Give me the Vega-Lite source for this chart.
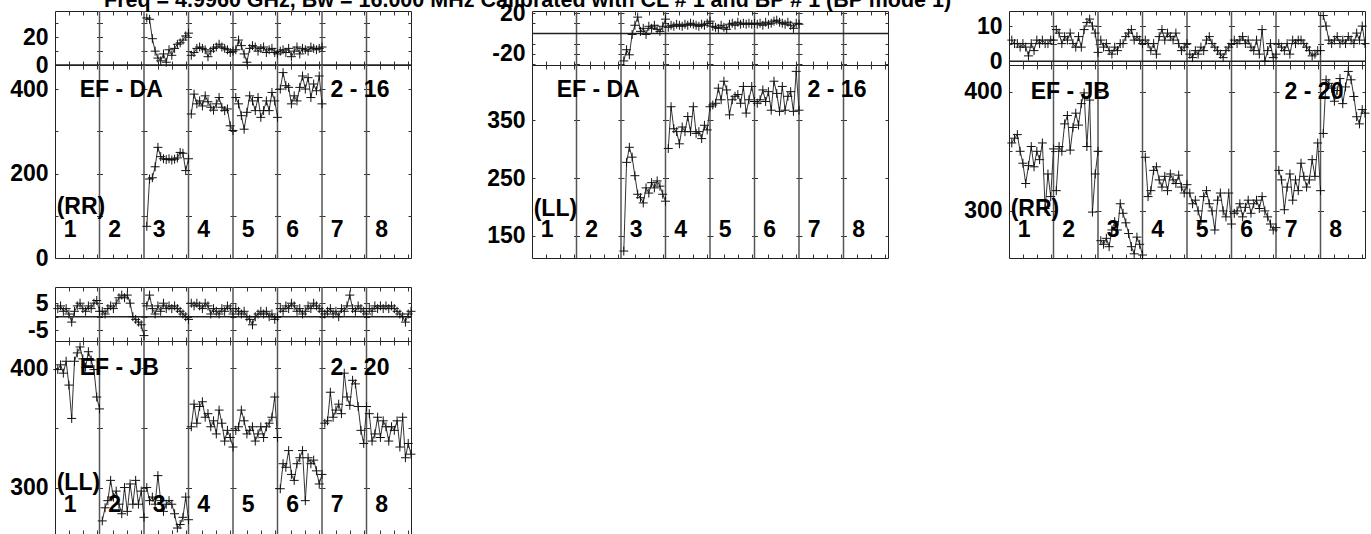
{
  "$schema": "https://vega.github.io/schema/vega-lite/v6.json",
  "background": "white",
  "padding": {"left": 9, "top": -11, "right": 0, "bottom": 0},
  "title": {"text": "Freq = 4.9960 GHz, Bw = 16.000 MHz  Calibrated with CL # 1 and BP # 1 (BP mode 1)", "anchor": "start", "frame": "group", "dx": 49, "offset": -9.5, "font": "Liberation Sans", "fontSize": 21.5, "fontWeight": "bold", "color": "#000"},
  "config": {
    "view": {"stroke": "#222", "strokeWidth": 1},
    "axis": {"labelFont": "Liberation Sans", "labelFontSize": 23, "labelFontWeight": "bold", "labelColor": "#000", "ticks": false, "domain": false, "grid": true, "gridColor": "#333", "gridOpacity": 1, "gridWidth": 1, "labelPadding": 7, "labelFlush": false, "labelOverlap": false},
    "axisY": {"gridDash": [6, 38.5], "gridDashOffset": 3},
    "text": {"font": "Liberation Sans", "fontSize": 23, "fontWeight": "bold", "color": "#000"}
  },
  "datasets": {
    "div": [{"ch":16},{"ch":32},{"ch":48},{"ch":64},{"ch":80},{"ch":96},{"ch":112}],
    "zero": [{"z": 0}],
    "ifs": [{"ifn":1},{"ifn":2},{"ifn":3},{"ifn":4},{"ifn":5},{"ifn":6},{"ifn":7},{"ifn":8}],
    "base": [{"p":"A","t":"EF - DA"},{"p":"B","t":"EF - DA"},{"p":"C","t":"EF - JB"},{"p":"D","t":"EF - JB"}],
    "time": [{"p":"A","t":"2 - 16"},{"p":"B","t":"2 - 16"},{"p":"C","t":"2 - 20"},{"p":"D","t":"2 - 20"}],
    "pol": [{"p":"A","t":"(RR)"},{"p":"B","t":"(LL)"},{"p":"C","t":"(RR)"},{"p":"D","t":"(LL)"}],
    "vis": [
{"p":"A","ifn":3,"ch":33,"a":75,"ph":34},{"p":"A","ifn":3,"ch":34,"a":187,"ph":33},{"p":"A","ifn":3,"ch":35,"a":190,"ph":19},{"p":"A","ifn":3,"ch":36,"a":216,"ph":10},{"p":"A","ifn":3,"ch":37,"a":262,"ph":5},{"p":"A","ifn":3,"ch":38,"a":240,"ph":3},{"p":"A","ifn":3,"ch":39,"a":235,"ph":8},{"p":"A","ifn":3,"ch":40,"a":233,"ph":2},{"p":"A","ifn":3,"ch":41,"a":235,"ph":11},{"p":"A","ifn":3,"ch":42,"a":232,"ph":7},{"p":"A","ifn":3,"ch":43,"a":234,"ph":12},{"p":"A","ifn":3,"ch":44,"a":237,"ph":15},{"p":"A","ifn":3,"ch":45,"a":250,"ph":16},{"p":"A","ifn":3,"ch":46,"a":248,"ph":18},{"p":"A","ifn":3,"ch":47,"a":207,"ph":21},{"p":"A","ifn":3,"ch":48,"a":235,"ph":23},
{"p":"A","ifn":4,"ch":49,"a":341,"ph":7},{"p":"A","ifn":4,"ch":50,"a":388,"ph":9},{"p":"A","ifn":4,"ch":51,"a":365,"ph":12},{"p":"A","ifn":4,"ch":52,"a":372,"ph":13},{"p":"A","ifn":4,"ch":53,"a":360,"ph":12},{"p":"A","ifn":4,"ch":54,"a":384,"ph":11},{"p":"A","ifn":4,"ch":55,"a":370,"ph":6},{"p":"A","ifn":4,"ch":56,"a":357,"ph":10},{"p":"A","ifn":4,"ch":57,"a":350,"ph":12},{"p":"A","ifn":4,"ch":58,"a":365,"ph":13},{"p":"A","ifn":4,"ch":59,"a":380,"ph":15},{"p":"A","ifn":4,"ch":60,"a":357,"ph":13},{"p":"A","ifn":4,"ch":61,"a":349,"ph":12},{"p":"A","ifn":4,"ch":62,"a":353,"ph":11},{"p":"A","ifn":4,"ch":63,"a":313,"ph":9},{"p":"A","ifn":4,"ch":64,"a":302,"ph":10},
{"p":"A","ifn":5,"ch":65,"a":380,"ph":11},{"p":"A","ifn":5,"ch":66,"a":365,"ph":18},{"p":"A","ifn":5,"ch":67,"a":337,"ph":14},{"p":"A","ifn":5,"ch":68,"a":305,"ph":8},{"p":"A","ifn":5,"ch":69,"a":345,"ph":2},{"p":"A","ifn":5,"ch":70,"a":384,"ph":12},{"p":"A","ifn":5,"ch":71,"a":372,"ph":14},{"p":"A","ifn":5,"ch":72,"a":349,"ph":13},{"p":"A","ifn":5,"ch":73,"a":380,"ph":10},{"p":"A","ifn":5,"ch":74,"a":333,"ph":12},{"p":"A","ifn":5,"ch":75,"a":349,"ph":13},{"p":"A","ifn":5,"ch":76,"a":372,"ph":9},{"p":"A","ifn":5,"ch":77,"a":349,"ph":11},{"p":"A","ifn":5,"ch":78,"a":392,"ph":12},{"p":"A","ifn":5,"ch":79,"a":372,"ph":9},{"p":"A","ifn":5,"ch":80,"a":333,"ph":8},
{"p":"A","ifn":6,"ch":81,"a":400,"ph":10},{"p":"A","ifn":6,"ch":82,"a":439,"ph":11},{"p":"A","ifn":6,"ch":83,"a":408,"ph":9},{"p":"A","ifn":6,"ch":84,"a":404,"ph":12},{"p":"A","ifn":6,"ch":85,"a":365,"ph":6},{"p":"A","ifn":6,"ch":86,"a":384,"ph":10},{"p":"A","ifn":6,"ch":87,"a":372,"ph":13},{"p":"A","ifn":6,"ch":88,"a":404,"ph":8},{"p":"A","ifn":6,"ch":89,"a":431,"ph":12},{"p":"A","ifn":6,"ch":90,"a":400,"ph":11},{"p":"A","ifn":6,"ch":91,"a":427,"ph":10},{"p":"A","ifn":6,"ch":92,"a":380,"ph":13},{"p":"A","ifn":6,"ch":93,"a":412,"ph":12},{"p":"A","ifn":6,"ch":94,"a":396,"ph":11},{"p":"A","ifn":6,"ch":95,"a":431,"ph":12},{"p":"A","ifn":6,"ch":96,"a":365,"ph":13},
{"p":"B","ifn":3,"ch":33,"a":124,"ph":-27},{"p":"B","ifn":3,"ch":34,"a":277,"ph":-16},{"p":"B","ifn":3,"ch":35,"a":303,"ph":-21},{"p":"B","ifn":3,"ch":36,"a":286,"ph":-1},{"p":"B","ifn":3,"ch":37,"a":254,"ph":8},{"p":"B","ifn":3,"ch":38,"a":222,"ph":16},{"p":"B","ifn":3,"ch":39,"a":216,"ph":2},{"p":"B","ifn":3,"ch":40,"a":207,"ph":5},{"p":"B","ifn":3,"ch":41,"a":233,"ph":-1},{"p":"B","ifn":3,"ch":42,"a":224,"ph":7},{"p":"B","ifn":3,"ch":43,"a":242,"ph":5},{"p":"B","ifn":3,"ch":44,"a":233,"ph":8},{"p":"B","ifn":3,"ch":45,"a":245,"ph":4},{"p":"B","ifn":3,"ch":46,"a":236,"ph":2},{"p":"B","ifn":3,"ch":47,"a":222,"ph":7},{"p":"B","ifn":3,"ch":48,"a":210,"ph":14},
{"p":"B","ifn":4,"ch":49,"a":301,"ph":6},{"p":"B","ifn":4,"ch":50,"a":373,"ph":8},{"p":"B","ifn":4,"ch":51,"a":335,"ph":7},{"p":"B","ifn":4,"ch":52,"a":330,"ph":9},{"p":"B","ifn":4,"ch":53,"a":309,"ph":8},{"p":"B","ifn":4,"ch":54,"a":338,"ph":7},{"p":"B","ifn":4,"ch":55,"a":330,"ph":9},{"p":"B","ifn":4,"ch":56,"a":356,"ph":8},{"p":"B","ifn":4,"ch":57,"a":330,"ph":10},{"p":"B","ifn":4,"ch":58,"a":373,"ph":9},{"p":"B","ifn":4,"ch":59,"a":327,"ph":8},{"p":"B","ifn":4,"ch":60,"a":330,"ph":7},{"p":"B","ifn":4,"ch":61,"a":318,"ph":9},{"p":"B","ifn":4,"ch":62,"a":341,"ph":8},{"p":"B","ifn":4,"ch":63,"a":333,"ph":10},{"p":"B","ifn":4,"ch":64,"a":373,"ph":12},
{"p":"B","ifn":5,"ch":65,"a":376,"ph":7},{"p":"B","ifn":5,"ch":66,"a":379,"ph":6},{"p":"B","ifn":5,"ch":67,"a":405,"ph":5},{"p":"B","ifn":5,"ch":68,"a":385,"ph":8},{"p":"B","ifn":5,"ch":69,"a":417,"ph":6},{"p":"B","ifn":5,"ch":70,"a":402,"ph":4},{"p":"B","ifn":5,"ch":71,"a":359,"ph":9},{"p":"B","ifn":5,"ch":72,"a":385,"ph":10},{"p":"B","ifn":5,"ch":73,"a":391,"ph":8},{"p":"B","ifn":5,"ch":74,"a":394,"ph":11},{"p":"B","ifn":5,"ch":75,"a":379,"ph":9},{"p":"B","ifn":5,"ch":76,"a":408,"ph":10},{"p":"B","ifn":5,"ch":77,"a":362,"ph":9},{"p":"B","ifn":5,"ch":78,"a":385,"ph":10},{"p":"B","ifn":5,"ch":79,"a":408,"ph":9},{"p":"B","ifn":5,"ch":80,"a":382,"ph":10},
{"p":"B","ifn":6,"ch":81,"a":379,"ph":9},{"p":"B","ifn":6,"ch":82,"a":385,"ph":10},{"p":"B","ifn":6,"ch":83,"a":402,"ph":8},{"p":"B","ifn":6,"ch":84,"a":382,"ph":11},{"p":"B","ifn":6,"ch":85,"a":399,"ph":9},{"p":"B","ifn":6,"ch":86,"a":367,"ph":10},{"p":"B","ifn":6,"ch":87,"a":417,"ph":12},{"p":"B","ifn":6,"ch":88,"a":396,"ph":13},{"p":"B","ifn":6,"ch":89,"a":365,"ph":11},{"p":"B","ifn":6,"ch":90,"a":408,"ph":10},{"p":"B","ifn":6,"ch":91,"a":367,"ph":9},{"p":"B","ifn":6,"ch":92,"a":391,"ph":11},{"p":"B","ifn":6,"ch":93,"a":399,"ph":8},{"p":"B","ifn":6,"ch":94,"a":365,"ph":5},{"p":"B","ifn":6,"ch":95,"a":434,"ph":10},{"p":"B","ifn":6,"ch":96,"a":367,"ph":9},
{"p":"C","ifn":1,"ch":1,"a":357,"ph":6},{"p":"C","ifn":1,"ch":2,"a":361,"ph":5},{"p":"C","ifn":1,"ch":3,"a":364,"ph":5},{"p":"C","ifn":1,"ch":4,"a":350,"ph":4},{"p":"C","ifn":1,"ch":5,"a":340,"ph":5},{"p":"C","ifn":1,"ch":6,"a":323,"ph":4},{"p":"C","ifn":1,"ch":7,"a":338,"ph":1.5},{"p":"C","ifn":1,"ch":8,"a":354,"ph":5},{"p":"C","ifn":1,"ch":9,"a":337,"ph":3},{"p":"C","ifn":1,"ch":10,"a":350,"ph":6},{"p":"C","ifn":1,"ch":11,"a":343,"ph":5},{"p":"C","ifn":1,"ch":12,"a":357,"ph":6},{"p":"C","ifn":1,"ch":13,"a":302,"ph":5},{"p":"C","ifn":1,"ch":14,"a":331,"ph":5},{"p":"C","ifn":1,"ch":15,"a":312,"ph":6},{"p":"C","ifn":1,"ch":16,"a":352,"ph":6},
{"p":"C","ifn":2,"ch":17,"a":317,"ph":9},{"p":"C","ifn":2,"ch":18,"a":354,"ph":8},{"p":"C","ifn":2,"ch":19,"a":350,"ph":5},{"p":"C","ifn":2,"ch":20,"a":373,"ph":7},{"p":"C","ifn":2,"ch":21,"a":380,"ph":6},{"p":"C","ifn":2,"ch":22,"a":351,"ph":8},{"p":"C","ifn":2,"ch":23,"a":370,"ph":5},{"p":"C","ifn":2,"ch":24,"a":382,"ph":4},{"p":"C","ifn":2,"ch":25,"a":372,"ph":7},{"p":"C","ifn":2,"ch":26,"a":390,"ph":4},{"p":"C","ifn":2,"ch":27,"a":399,"ph":9},{"p":"C","ifn":2,"ch":28,"a":354,"ph":11},{"p":"C","ifn":2,"ch":29,"a":393,"ph":12},{"p":"C","ifn":2,"ch":30,"a":299,"ph":10},{"p":"C","ifn":2,"ch":31,"a":331,"ph":8},{"p":"C","ifn":2,"ch":32,"a":350,"ph":2.5},
{"p":"C","ifn":3,"ch":33,"a":275,"ph":6},{"p":"C","ifn":3,"ch":34,"a":272,"ph":4},{"p":"C","ifn":3,"ch":35,"a":277,"ph":5},{"p":"C","ifn":3,"ch":36,"a":270,"ph":3},{"p":"C","ifn":3,"ch":37,"a":284,"ph":2},{"p":"C","ifn":3,"ch":38,"a":291,"ph":4},{"p":"C","ifn":3,"ch":39,"a":284,"ph":3},{"p":"C","ifn":3,"ch":40,"a":306,"ph":5},{"p":"C","ifn":3,"ch":41,"a":298,"ph":5},{"p":"C","ifn":3,"ch":42,"a":290,"ph":7},{"p":"C","ifn":3,"ch":43,"a":281,"ph":8},{"p":"C","ifn":3,"ch":44,"a":270,"ph":9},{"p":"C","ifn":3,"ch":45,"a":264,"ph":6},{"p":"C","ifn":3,"ch":46,"a":278,"ph":7},{"p":"C","ifn":3,"ch":47,"a":272,"ph":6},{"p":"C","ifn":3,"ch":48,"a":263,"ph":5},
{"p":"C","ifn":4,"ch":49,"a":345,"ph":6},{"p":"C","ifn":4,"ch":50,"a":312,"ph":5},{"p":"C","ifn":4,"ch":51,"a":317,"ph":3},{"p":"C","ifn":4,"ch":52,"a":334,"ph":5},{"p":"C","ifn":4,"ch":53,"a":337,"ph":2},{"p":"C","ifn":4,"ch":54,"a":326,"ph":7},{"p":"C","ifn":4,"ch":55,"a":320,"ph":9},{"p":"C","ifn":4,"ch":56,"a":329,"ph":6},{"p":"C","ifn":4,"ch":57,"a":317,"ph":8},{"p":"C","ifn":4,"ch":58,"a":331,"ph":7},{"p":"C","ifn":4,"ch":59,"a":326,"ph":6},{"p":"C","ifn":4,"ch":60,"a":323,"ph":8},{"p":"C","ifn":4,"ch":61,"a":330,"ph":5},{"p":"C","ifn":4,"ch":62,"a":320,"ph":3},{"p":"C","ifn":4,"ch":63,"a":315,"ph":4},{"p":"C","ifn":4,"ch":64,"a":322,"ph":5},
{"p":"C","ifn":5,"ch":65,"a":315,"ph":2},{"p":"C","ifn":5,"ch":66,"a":306,"ph":1},{"p":"C","ifn":5,"ch":67,"a":309,"ph":3},{"p":"C","ifn":5,"ch":68,"a":300,"ph":2},{"p":"C","ifn":5,"ch":69,"a":292,"ph":4},{"p":"C","ifn":5,"ch":70,"a":312,"ph":3},{"p":"C","ifn":5,"ch":71,"a":317,"ph":6},{"p":"C","ifn":5,"ch":72,"a":306,"ph":7},{"p":"C","ifn":5,"ch":73,"a":300,"ph":5},{"p":"C","ifn":5,"ch":74,"a":284,"ph":4},{"p":"C","ifn":5,"ch":75,"a":309,"ph":3},{"p":"C","ifn":5,"ch":76,"a":315,"ph":2},{"p":"C","ifn":5,"ch":77,"a":300,"ph":1},{"p":"C","ifn":5,"ch":78,"a":295,"ph":3},{"p":"C","ifn":5,"ch":79,"a":315,"ph":4},{"p":"C","ifn":5,"ch":80,"a":289,"ph":5},
{"p":"C","ifn":6,"ch":81,"a":298,"ph":6},{"p":"C","ifn":6,"ch":82,"a":300,"ph":5},{"p":"C","ifn":6,"ch":83,"a":306,"ph":6},{"p":"C","ifn":6,"ch":84,"a":295,"ph":7},{"p":"C","ifn":6,"ch":85,"a":303,"ph":5},{"p":"C","ifn":6,"ch":86,"a":309,"ph":6},{"p":"C","ifn":6,"ch":87,"a":298,"ph":4},{"p":"C","ifn":6,"ch":88,"a":306,"ph":3},{"p":"C","ifn":6,"ch":89,"a":309,"ph":6},{"p":"C","ifn":6,"ch":90,"a":302,"ph":2},{"p":"C","ifn":6,"ch":91,"a":312,"ph":9},{"p":"C","ifn":6,"ch":92,"a":300,"ph":0},{"p":"C","ifn":6,"ch":93,"a":295,"ph":3},{"p":"C","ifn":6,"ch":94,"a":289,"ph":5},{"p":"C","ifn":6,"ch":95,"a":284,"ph":1},{"p":"C","ifn":6,"ch":96,"a":286,"ph":2},
{"p":"C","ifn":7,"ch":97,"a":334,"ph":5},{"p":"C","ifn":7,"ch":98,"a":326,"ph":4},{"p":"C","ifn":7,"ch":99,"a":301,"ph":3},{"p":"C","ifn":7,"ch":100,"a":320,"ph":5},{"p":"C","ifn":7,"ch":101,"a":331,"ph":2},{"p":"C","ifn":7,"ch":102,"a":309,"ph":6},{"p":"C","ifn":7,"ch":103,"a":326,"ph":5},{"p":"C","ifn":7,"ch":104,"a":317,"ph":6},{"p":"C","ifn":7,"ch":105,"a":340,"ph":6},{"p":"C","ifn":7,"ch":106,"a":329,"ph":5},{"p":"C","ifn":7,"ch":107,"a":320,"ph":4},{"p":"C","ifn":7,"ch":108,"a":326,"ph":3},{"p":"C","ifn":7,"ch":109,"a":343,"ph":1.5},{"p":"C","ifn":7,"ch":110,"a":329,"ph":2},{"p":"C","ifn":7,"ch":111,"a":357,"ph":3},{"p":"C","ifn":7,"ch":112,"a":317,"ph":3},
{"p":"C","ifn":8,"ch":113,"a":365,"ph":13},{"p":"C","ifn":8,"ch":114,"a":410,"ph":10},{"p":"C","ifn":8,"ch":115,"a":407,"ph":6},{"p":"C","ifn":8,"ch":116,"a":403,"ph":5},{"p":"C","ifn":8,"ch":117,"a":392,"ph":6},{"p":"C","ifn":8,"ch":118,"a":401,"ph":7},{"p":"C","ifn":8,"ch":119,"a":411,"ph":5},{"p":"C","ifn":8,"ch":120,"a":390,"ph":6},{"p":"C","ifn":8,"ch":121,"a":404,"ph":5},{"p":"C","ifn":8,"ch":122,"a":417,"ph":7},{"p":"C","ifn":8,"ch":123,"a":410,"ph":6},{"p":"C","ifn":8,"ch":124,"a":396,"ph":5},{"p":"C","ifn":8,"ch":125,"a":379,"ph":8},{"p":"C","ifn":8,"ch":126,"a":373,"ph":6},{"p":"C","ifn":8,"ch":127,"a":385,"ph":10},{"p":"C","ifn":8,"ch":128,"a":382,"ph":5},
{"p":"D","ifn":1,"ch":1,"a":399,"ph":3},{"p":"D","ifn":1,"ch":2,"a":403,"ph":4},{"p":"D","ifn":1,"ch":3,"a":396,"ph":2},{"p":"D","ifn":1,"ch":4,"a":406,"ph":3},{"p":"D","ifn":1,"ch":5,"a":386,"ph":1},{"p":"D","ifn":1,"ch":6,"a":358,"ph":-2},{"p":"D","ifn":1,"ch":7,"a":406,"ph":2},{"p":"D","ifn":1,"ch":8,"a":413,"ph":4},{"p":"D","ifn":1,"ch":9,"a":418,"ph":5},{"p":"D","ifn":1,"ch":10,"a":408,"ph":3},{"p":"D","ifn":1,"ch":11,"a":401,"ph":2},{"p":"D","ifn":1,"ch":12,"a":414,"ph":4},{"p":"D","ifn":1,"ch":13,"a":407,"ph":3},{"p":"D","ifn":1,"ch":14,"a":399,"ph":5},{"p":"D","ifn":1,"ch":15,"a":376,"ph":6},{"p":"D","ifn":1,"ch":16,"a":366,"ph":2},
{"p":"D","ifn":2,"ch":17,"a":272,"ph":2},{"p":"D","ifn":2,"ch":18,"a":283,"ph":1},{"p":"D","ifn":2,"ch":19,"a":289,"ph":3},{"p":"D","ifn":2,"ch":20,"a":306,"ph":4},{"p":"D","ifn":2,"ch":21,"a":292,"ph":3},{"p":"D","ifn":2,"ch":22,"a":297,"ph":5},{"p":"D","ifn":2,"ch":23,"a":286,"ph":7},{"p":"D","ifn":2,"ch":24,"a":278,"ph":8},{"p":"D","ifn":2,"ch":25,"a":300,"ph":7},{"p":"D","ifn":2,"ch":26,"a":280,"ph":8},{"p":"D","ifn":2,"ch":27,"a":303,"ph":5},{"p":"D","ifn":2,"ch":28,"a":286,"ph":0},{"p":"D","ifn":2,"ch":29,"a":306,"ph":-1},{"p":"D","ifn":2,"ch":30,"a":286,"ph":-2},{"p":"D","ifn":2,"ch":31,"a":297,"ph":-3},{"p":"D","ifn":2,"ch":32,"a":275,"ph":-7},
{"p":"D","ifn":3,"ch":33,"a":300,"ph":4},{"p":"D","ifn":3,"ch":34,"a":289,"ph":8},{"p":"D","ifn":3,"ch":35,"a":292,"ph":3},{"p":"D","ifn":3,"ch":36,"a":286,"ph":1},{"p":"D","ifn":3,"ch":37,"a":310,"ph":4},{"p":"D","ifn":3,"ch":38,"a":289,"ph":2},{"p":"D","ifn":3,"ch":39,"a":280,"ph":5},{"p":"D","ifn":3,"ch":40,"a":286,"ph":3},{"p":"D","ifn":3,"ch":41,"a":289,"ph":4},{"p":"D","ifn":3,"ch":42,"a":286,"ph":3},{"p":"D","ifn":3,"ch":43,"a":278,"ph":4},{"p":"D","ifn":3,"ch":44,"a":266,"ph":3},{"p":"D","ifn":3,"ch":45,"a":269,"ph":2},{"p":"D","ifn":3,"ch":46,"a":275,"ph":1},{"p":"D","ifn":3,"ch":47,"a":292,"ph":0},{"p":"D","ifn":3,"ch":48,"a":273,"ph":-1},
{"p":"D","ifn":4,"ch":49,"a":351,"ph":5},{"p":"D","ifn":4,"ch":50,"a":370,"ph":4},{"p":"D","ifn":4,"ch":51,"a":354,"ph":5},{"p":"D","ifn":4,"ch":52,"a":368,"ph":4},{"p":"D","ifn":4,"ch":53,"a":372,"ph":3},{"p":"D","ifn":4,"ch":54,"a":359,"ph":5},{"p":"D","ifn":4,"ch":55,"a":362,"ph":4},{"p":"D","ifn":4,"ch":56,"a":351,"ph":1},{"p":"D","ifn":4,"ch":57,"a":356,"ph":3},{"p":"D","ifn":4,"ch":58,"a":345,"ph":2},{"p":"D","ifn":4,"ch":59,"a":365,"ph":1},{"p":"D","ifn":4,"ch":60,"a":354,"ph":3},{"p":"D","ifn":4,"ch":61,"a":339,"ph":2},{"p":"D","ifn":4,"ch":62,"a":348,"ph":4},{"p":"D","ifn":4,"ch":63,"a":342,"ph":3},{"p":"D","ifn":4,"ch":64,"a":334,"ph":1},
{"p":"D","ifn":5,"ch":65,"a":348,"ph":3},{"p":"D","ifn":5,"ch":66,"a":351,"ph":2},{"p":"D","ifn":5,"ch":67,"a":365,"ph":1},{"p":"D","ifn":5,"ch":68,"a":356,"ph":2},{"p":"D","ifn":5,"ch":69,"a":345,"ph":0},{"p":"D","ifn":5,"ch":70,"a":348,"ph":-1},{"p":"D","ifn":5,"ch":71,"a":351,"ph":-3},{"p":"D","ifn":5,"ch":72,"a":339,"ph":0},{"p":"D","ifn":5,"ch":73,"a":345,"ph":1},{"p":"D","ifn":5,"ch":74,"a":351,"ph":2},{"p":"D","ifn":5,"ch":75,"a":342,"ph":1},{"p":"D","ifn":5,"ch":76,"a":351,"ph":2},{"p":"D","ifn":5,"ch":77,"a":354,"ph":0},{"p":"D","ifn":5,"ch":78,"a":359,"ph":1},{"p":"D","ifn":5,"ch":79,"a":376,"ph":-1},{"p":"D","ifn":5,"ch":80,"a":342,"ph":0},
{"p":"D","ifn":6,"ch":81,"a":299,"ph":3},{"p":"D","ifn":6,"ch":82,"a":320,"ph":2},{"p":"D","ifn":6,"ch":83,"a":317,"ph":4},{"p":"D","ifn":6,"ch":84,"a":331,"ph":3},{"p":"D","ifn":6,"ch":85,"a":311,"ph":5},{"p":"D","ifn":6,"ch":86,"a":306,"ph":4},{"p":"D","ifn":6,"ch":87,"a":320,"ph":2},{"p":"D","ifn":6,"ch":88,"a":325,"ph":3},{"p":"D","ifn":6,"ch":89,"a":331,"ph":1},{"p":"D","ifn":6,"ch":90,"a":289,"ph":2},{"p":"D","ifn":6,"ch":91,"a":325,"ph":4},{"p":"D","ifn":6,"ch":92,"a":320,"ph":3},{"p":"D","ifn":6,"ch":93,"a":323,"ph":5},{"p":"D","ifn":6,"ch":94,"a":314,"ph":4},{"p":"D","ifn":6,"ch":95,"a":303,"ph":3},{"p":"D","ifn":6,"ch":96,"a":311,"ph":2},
{"p":"D","ifn":7,"ch":97,"a":354,"ph":1},{"p":"D","ifn":7,"ch":98,"a":356,"ph":2},{"p":"D","ifn":7,"ch":99,"a":380,"ph":3},{"p":"D","ifn":7,"ch":100,"a":359,"ph":1},{"p":"D","ifn":7,"ch":101,"a":365,"ph":2},{"p":"D","ifn":7,"ch":102,"a":370,"ph":0},{"p":"D","ifn":7,"ch":103,"a":362,"ph":3},{"p":"D","ifn":7,"ch":104,"a":396,"ph":2},{"p":"D","ifn":7,"ch":105,"a":376,"ph":4},{"p":"D","ifn":7,"ch":106,"a":369,"ph":8},{"p":"D","ifn":7,"ch":107,"a":390,"ph":3},{"p":"D","ifn":7,"ch":108,"a":387,"ph":2},{"p":"D","ifn":7,"ch":109,"a":368,"ph":4},{"p":"D","ifn":7,"ch":110,"a":348,"ph":3},{"p":"D","ifn":7,"ch":111,"a":337,"ph":2},{"p":"D","ifn":7,"ch":112,"a":368,"ph":1},
{"p":"D","ifn":8,"ch":113,"a":362,"ph":3},{"p":"D","ifn":8,"ch":114,"a":339,"ph":2},{"p":"D","ifn":8,"ch":115,"a":345,"ph":4},{"p":"D","ifn":8,"ch":116,"a":359,"ph":3},{"p":"D","ifn":8,"ch":117,"a":342,"ph":4},{"p":"D","ifn":8,"ch":118,"a":356,"ph":3},{"p":"D","ifn":8,"ch":119,"a":351,"ph":4},{"p":"D","ifn":8,"ch":120,"a":339,"ph":3},{"p":"D","ifn":8,"ch":121,"a":351,"ph":4},{"p":"D","ifn":8,"ch":122,"a":348,"ph":3},{"p":"D","ifn":8,"ch":123,"a":356,"ph":2},{"p":"D","ifn":8,"ch":124,"a":334,"ph":1},{"p":"D","ifn":8,"ch":125,"a":359,"ph":0},{"p":"D","ifn":8,"ch":126,"a":325,"ph":-2},{"p":"D","ifn":8,"ch":127,"a":337,"ph":1},{"p":"D","ifn":8,"ch":128,"a":328,"ph":2}
    ]
  },
  "spacing": 14,
  "vconcat": [
    {"hconcat": [
      {"vconcat": [
        {"width": 356, "height": 54, "data": {"name": "vis"}, "transform": [{"filter": "datum.p === 'A'"}],
         "encoding": {
           "x": {"field": "ch", "type": "quantitative", "scale": {"domain": [0, 128], "nice": false, "zero": false}, "axis": {"values": [5,10,15,21,26,31,37,42,47,53,58,63,69,74,79,85,90,95,101,106,111,117,122,127], "labels": false, "gridDash": [4, 46], "title": null}},
           "y": {"field": "ph", "type": "quantitative", "scale": {"domain": [0, 39], "nice": false, "zero": false}, "axis": {"values": [0, 10, 20, 30], "labelExpr": "datum.value % 20 === 0 ? '' + datum.value : ''", "title": null}}
         },
         "layer": [
          {"data": {"name": "div"}, "mark": {"type": "rule", "color": "#555", "strokeWidth": 1.5}, "encoding": {"y": {"value": 0}, "y2": {"value": "height"}}},
          {"data": {"name": "zero"}, "mark": {"type": "rule", "color": "#222", "strokeWidth": 1.5}, "encoding": {"x": {"value": 0}, "x2": {"value": "width"}, "y": {"field": "z", "type": "quantitative"}}},
          {"mark": {"type": "line", "color": "#333", "strokeWidth": 1}, "encoding": {"detail": {"field": "ifn"}}},
          {"mark": {"type": "point", "shape": "M-1,0L1,0M0,-1L0,1", "size": 80, "filled": false, "color": "#111", "strokeWidth": 1, "opacity": 1}}
        ]},
        {"width": 356, "height": 193, "resolve": {"scale": {"x": "independent"}}, "layer": [
          {"data": {"name": "vis"}, "transform": [{"filter": "datum.p === 'A'"}],
           "encoding": {
             "x": {"field": "ch", "type": "quantitative", "scale": {"domain": [0, 128], "nice": false, "zero": false}, "axis": {"values": [5,10,15,21,26,31,37,42,47,53,58,63,69,74,79,85,90,95,101,106,111,117,122,127], "labels": false, "gridDash": [4, 185], "title": null}},
             "y": {"field": "a", "type": "quantitative", "scale": {"domain": [0, 457], "nice": false, "zero": false}, "axis": {"values": [0, 100, 200, 300, 400], "labelExpr": "datum.value % 200 === 0 ? datum.label : ''", "title": null}}
           },
           "layer": [
            {"data": {"name": "div"}, "mark": {"type": "rule", "color": "#555", "strokeWidth": 1.5}, "encoding": {"y": {"value": 0}, "y2": {"value": "height"}}},
            {"mark": {"type": "line", "color": "#333", "strokeWidth": 1}, "encoding": {"detail": {"field": "ifn"}}},
            {"mark": {"type": "point", "shape": "M-1,0L1,0M0,-1L0,1", "size": 80, "filled": false, "color": "#111", "strokeWidth": 1, "opacity": 1}}
          ]},
          {"data": {"name": "ifs"}, "mark": {"type": "text", "baseline": "middle", "dx": -7}, "encoding": {"x": {"field": "ifn", "type": "ordinal", "scale": {"type": "band", "paddingInner": 0, "paddingOuter": 0}, "axis": {"labels": false, "grid": false, "title": null}}, "y": {"datum": 66, "type": "quantitative"}, "text": {"field": "ifn"}}},
          {"data": {"name": "base"}, "transform": [{"filter": "datum.p === 'A'"}], "mark": {"type": "text", "align": "left", "baseline": "middle"}, "encoding": {"x": {"datum": 8.9, "type": "quantitative", "scale": {"domain": [0, 128], "nice": false, "zero": false}, "axis": {"labels": false, "grid": false, "title": null}}, "y": {"datum": 398, "type": "quantitative"}, "text": {"field": "t"}}},
          {"data": {"name": "time"}, "transform": [{"filter": "datum.p === 'A'"}], "mark": {"type": "text", "align": "left", "baseline": "middle"}, "encoding": {"x": {"datum": 99.1, "type": "quantitative", "scale": {"domain": [0, 128], "nice": false, "zero": false}, "axis": {"labels": false, "grid": false, "title": null}}, "y": {"datum": 398, "type": "quantitative"}, "text": {"field": "t"}}},
          {"data": {"name": "pol"}, "transform": [{"filter": "datum.p === 'A'"}], "mark": {"type": "text", "align": "left", "baseline": "middle"}, "encoding": {"x": {"datum": 0.6, "type": "quantitative", "scale": {"domain": [0, 128], "nice": false, "zero": false}, "axis": {"labels": false, "grid": false, "title": null}}, "y": {"datum": 121, "type": "quantitative"}, "text": {"field": "t"}}}
        ]}
      ], "spacing": 0, "bounds": "flush"},
      {"vconcat": [
        {"width": 356, "height": 54, "data": {"name": "vis"}, "transform": [{"filter": "datum.p === 'B'"}],
         "encoding": {
           "x": {"field": "ch", "type": "quantitative", "scale": {"domain": [0, 128], "nice": false, "zero": false}, "axis": {"values": [5,10,15,21,26,31,37,42,47,53,58,63,69,74,79,85,90,95,101,106,111,117,122,127], "labels": false, "gridDash": [4, 46], "title": null}},
           "y": {"field": "ph", "type": "quantitative", "scale": {"domain": [-31, 22], "nice": false, "zero": false}, "axis": {"values": [-30, -20, -10, 0, 10, 20], "labelExpr": "abs(datum.value) === 20 ? '' + datum.value : ''", "title": null}}
         },
         "layer": [
          {"data": {"name": "div"}, "mark": {"type": "rule", "color": "#555", "strokeWidth": 1.5}, "encoding": {"y": {"value": 0}, "y2": {"value": "height"}}},
          {"data": {"name": "zero"}, "mark": {"type": "rule", "color": "#222", "strokeWidth": 1.5}, "encoding": {"x": {"value": 0}, "x2": {"value": "width"}, "y": {"field": "z", "type": "quantitative"}}},
          {"mark": {"type": "line", "color": "#333", "strokeWidth": 1}, "encoding": {"detail": {"field": "ifn"}}},
          {"mark": {"type": "point", "shape": "M-1,0L1,0M0,-1L0,1", "size": 80, "filled": false, "color": "#111", "strokeWidth": 1, "opacity": 1}}
        ]},
        {"width": 356, "height": 193, "resolve": {"scale": {"x": "independent"}}, "layer": [
          {"data": {"name": "vis"}, "transform": [{"filter": "datum.p === 'B'"}],
           "encoding": {
             "x": {"field": "ch", "type": "quantitative", "scale": {"domain": [0, 128], "nice": false, "zero": false}, "axis": {"values": [5,10,15,21,26,31,37,42,47,53,58,63,69,74,79,85,90,95,101,106,111,117,122,127], "labels": false, "gridDash": [4, 185], "title": null}},
             "y": {"field": "a", "type": "quantitative", "scale": {"domain": [112, 445], "nice": false, "zero": false}, "axis": {"values": [150, 200, 250, 300, 350, 400], "labelExpr": "(datum.value - 150) % 100 === 0 ? datum.label : ''", "title": null}}
           },
           "layer": [
            {"data": {"name": "div"}, "mark": {"type": "rule", "color": "#555", "strokeWidth": 1.5}, "encoding": {"y": {"value": 0}, "y2": {"value": "height"}}},
            {"mark": {"type": "line", "color": "#333", "strokeWidth": 1}, "encoding": {"detail": {"field": "ifn"}}},
            {"mark": {"type": "point", "shape": "M-1,0L1,0M0,-1L0,1", "size": 80, "filled": false, "color": "#111", "strokeWidth": 1, "opacity": 1}}
          ]},
          {"data": {"name": "ifs"}, "mark": {"type": "text", "baseline": "middle", "dx": -7}, "encoding": {"x": {"field": "ifn", "type": "ordinal", "scale": {"type": "band", "paddingInner": 0, "paddingOuter": 0}, "axis": {"labels": false, "grid": false, "title": null}}, "y": {"datum": 160, "type": "quantitative"}, "text": {"field": "ifn"}}},
          {"data": {"name": "base"}, "transform": [{"filter": "datum.p === 'B'"}], "mark": {"type": "text", "align": "left", "baseline": "middle"}, "encoding": {"x": {"datum": 8.9, "type": "quantitative", "scale": {"domain": [0, 128], "nice": false, "zero": false}, "axis": {"labels": false, "grid": false, "title": null}}, "y": {"datum": 402, "type": "quantitative"}, "text": {"field": "t"}}},
          {"data": {"name": "time"}, "transform": [{"filter": "datum.p === 'B'"}], "mark": {"type": "text", "align": "left", "baseline": "middle"}, "encoding": {"x": {"datum": 99.1, "type": "quantitative", "scale": {"domain": [0, 128], "nice": false, "zero": false}, "axis": {"labels": false, "grid": false, "title": null}}, "y": {"datum": 402, "type": "quantitative"}, "text": {"field": "t"}}},
          {"data": {"name": "pol"}, "transform": [{"filter": "datum.p === 'B'"}], "mark": {"type": "text", "align": "left", "baseline": "middle"}, "encoding": {"x": {"datum": 0.6, "type": "quantitative", "scale": {"domain": [0, 128], "nice": false, "zero": false}, "axis": {"labels": false, "grid": false, "title": null}}, "y": {"datum": 197, "type": "quantitative"}, "text": {"field": "t"}}}
        ]}
      ], "spacing": 0, "bounds": "flush"},
      {"vconcat": [
        {"width": 356, "height": 54, "data": {"name": "vis"}, "transform": [{"filter": "datum.p === 'C'"}],
         "encoding": {
           "x": {"field": "ch", "type": "quantitative", "scale": {"domain": [0, 128], "nice": false, "zero": false}, "axis": {"values": [5,10,15,21,26,31,37,42,47,53,58,63,69,74,79,85,90,95,101,106,111,117,122,127], "labels": false, "gridDash": [4, 46], "title": null}},
           "y": {"field": "ph", "type": "quantitative", "scale": {"domain": [-1.1, 14.3], "nice": false, "zero": false}, "axis": {"values": [0, 5, 10], "labelExpr": "datum.value % 10 === 0 ? '' + datum.value : ''", "title": null}}
         },
         "layer": [
          {"data": {"name": "div"}, "mark": {"type": "rule", "color": "#555", "strokeWidth": 1.5}, "encoding": {"y": {"value": 0}, "y2": {"value": "height"}}},
          {"data": {"name": "zero"}, "mark": {"type": "rule", "color": "#222", "strokeWidth": 1.5}, "encoding": {"x": {"value": 0}, "x2": {"value": "width"}, "y": {"field": "z", "type": "quantitative"}}},
          {"mark": {"type": "line", "color": "#333", "strokeWidth": 1}, "encoding": {"detail": {"field": "ifn"}}},
          {"mark": {"type": "point", "shape": "M-1,0L1,0M0,-1L0,1", "size": 80, "filled": false, "color": "#111", "strokeWidth": 1, "opacity": 1}}
        ]},
        {"width": 356, "height": 193, "resolve": {"scale": {"x": "independent"}}, "layer": [
          {"data": {"name": "vis"}, "transform": [{"filter": "datum.p === 'C'"}],
           "encoding": {
             "x": {"field": "ch", "type": "quantitative", "scale": {"domain": [0, 128], "nice": false, "zero": false}, "axis": {"values": [5,10,15,21,26,31,37,42,47,53,58,63,69,74,79,85,90,95,101,106,111,117,122,127], "labels": false, "gridDash": [4, 185], "title": null}},
             "y": {"field": "a", "type": "quantitative", "scale": {"domain": [260.5, 422.4], "nice": false, "zero": false}, "axis": {"values": [300, 350, 400], "labelExpr": "datum.value % 100 === 0 ? datum.label : ''", "title": null}}
           },
           "layer": [
            {"data": {"name": "div"}, "mark": {"type": "rule", "color": "#555", "strokeWidth": 1.5}, "encoding": {"y": {"value": 0}, "y2": {"value": "height"}}},
            {"mark": {"type": "line", "color": "#333", "strokeWidth": 1}, "encoding": {"detail": {"field": "ifn"}}},
            {"mark": {"type": "point", "shape": "M-1,0L1,0M0,-1L0,1", "size": 80, "filled": false, "color": "#111", "strokeWidth": 1, "opacity": 1}}
          ]},
          {"data": {"name": "ifs"}, "mark": {"type": "text", "baseline": "middle", "dx": -7}, "encoding": {"x": {"field": "ifn", "type": "ordinal", "scale": {"type": "band", "paddingInner": 0, "paddingOuter": 0}, "axis": {"labels": false, "grid": false, "title": null}}, "y": {"datum": 284, "type": "quantitative"}, "text": {"field": "ifn"}}},
          {"data": {"name": "base"}, "transform": [{"filter": "datum.p === 'C'"}], "mark": {"type": "text", "align": "left", "baseline": "middle"}, "encoding": {"x": {"datum": 7.8, "type": "quantitative", "scale": {"domain": [0, 128], "nice": false, "zero": false}, "axis": {"labels": false, "grid": false, "title": null}}, "y": {"datum": 400, "type": "quantitative"}, "text": {"field": "t"}}},
          {"data": {"name": "time"}, "transform": [{"filter": "datum.p === 'C'"}], "mark": {"type": "text", "align": "left", "baseline": "middle"}, "encoding": {"x": {"datum": 99.1, "type": "quantitative", "scale": {"domain": [0, 128], "nice": false, "zero": false}, "axis": {"labels": false, "grid": false, "title": null}}, "y": {"datum": 400, "type": "quantitative"}, "text": {"field": "t"}}},
          {"data": {"name": "pol"}, "transform": [{"filter": "datum.p === 'C'"}], "mark": {"type": "text", "align": "left", "baseline": "middle"}, "encoding": {"x": {"datum": 0.6, "type": "quantitative", "scale": {"domain": [0, 128], "nice": false, "zero": false}, "axis": {"labels": false, "grid": false, "title": null}}, "y": {"datum": 302, "type": "quantitative"}, "text": {"field": "t"}}}
        ]}
      ], "spacing": 0, "bounds": "flush"}
    ], "spacing": 73},
    {"hconcat": [
      {"vconcat": [
        {"width": 356, "height": 54, "data": {"name": "vis"}, "transform": [{"filter": "datum.p === 'D'"}],
         "encoding": {
           "x": {"field": "ch", "type": "quantitative", "scale": {"domain": [0, 128], "nice": false, "zero": false}, "axis": {"values": [5,10,15,21,26,31,37,42,47,53,58,63,69,74,79,85,90,95,101,106,111,117,122,127], "labels": false, "gridDash": [4, 46], "title": null}},
           "y": {"field": "ph", "type": "quantitative", "scale": {"domain": [-9, 11], "nice": false, "zero": false}, "axis": {"values": [-5, 0, 5], "labelExpr": "abs(datum.value) === 5 ? '' + datum.value : ''", "title": null}}
         },
         "layer": [
          {"data": {"name": "div"}, "mark": {"type": "rule", "color": "#555", "strokeWidth": 1.5}, "encoding": {"y": {"value": 0}, "y2": {"value": "height"}}},
          {"data": {"name": "zero"}, "mark": {"type": "rule", "color": "#222", "strokeWidth": 1.5}, "encoding": {"x": {"value": 0}, "x2": {"value": "width"}, "y": {"field": "z", "type": "quantitative"}}},
          {"mark": {"type": "line", "color": "#333", "strokeWidth": 1}, "encoding": {"detail": {"field": "ifn"}}},
          {"mark": {"type": "point", "shape": "M-1,0L1,0M0,-1L0,1", "size": 80, "filled": false, "color": "#111", "strokeWidth": 1, "opacity": 1}}
        ]},
        {"width": 356, "height": 193, "resolve": {"scale": {"x": "independent"}}, "layer": [
          {"data": {"name": "vis"}, "transform": [{"filter": "datum.p === 'D'"}],
           "encoding": {
             "x": {"field": "ch", "type": "quantitative", "scale": {"domain": [0, 128], "nice": false, "zero": false}, "axis": {"values": [5,10,15,21,26,31,37,42,47,53,58,63,69,74,79,85,90,95,101,106,111,117,122,127], "labels": false, "gridDash": [4, 185], "title": null}},
             "y": {"field": "a", "type": "quantitative", "scale": {"domain": [261, 423], "nice": false, "zero": false}, "axis": {"values": [300, 350, 400], "labelExpr": "datum.value % 100 === 0 ? datum.label : ''", "title": null}}
           },
           "layer": [
            {"data": {"name": "div"}, "mark": {"type": "rule", "color": "#555", "strokeWidth": 1.5}, "encoding": {"y": {"value": 0}, "y2": {"value": "height"}}},
            {"mark": {"type": "line", "color": "#333", "strokeWidth": 1}, "encoding": {"detail": {"field": "ifn"}}},
            {"mark": {"type": "point", "shape": "M-1,0L1,0M0,-1L0,1", "size": 80, "filled": false, "color": "#111", "strokeWidth": 1, "opacity": 1}}
          ]},
          {"data": {"name": "ifs"}, "mark": {"type": "text", "baseline": "middle", "dx": -7}, "encoding": {"x": {"field": "ifn", "type": "ordinal", "scale": {"type": "band", "paddingInner": 0, "paddingOuter": 0}, "axis": {"labels": false, "grid": false, "title": null}}, "y": {"datum": 285, "type": "quantitative"}, "text": {"field": "ifn"}}},
          {"data": {"name": "base"}, "transform": [{"filter": "datum.p === 'D'"}], "mark": {"type": "text", "align": "left", "baseline": "middle"}, "encoding": {"x": {"datum": 8.9, "type": "quantitative", "scale": {"domain": [0, 128], "nice": false, "zero": false}, "axis": {"labels": false, "grid": false, "title": null}}, "y": {"datum": 400, "type": "quantitative"}, "text": {"field": "t"}}},
          {"data": {"name": "time"}, "transform": [{"filter": "datum.p === 'D'"}], "mark": {"type": "text", "align": "left", "baseline": "middle"}, "encoding": {"x": {"datum": 99.1, "type": "quantitative", "scale": {"domain": [0, 128], "nice": false, "zero": false}, "axis": {"labels": false, "grid": false, "title": null}}, "y": {"datum": 400, "type": "quantitative"}, "text": {"field": "t"}}},
          {"data": {"name": "pol"}, "transform": [{"filter": "datum.p === 'D'"}], "mark": {"type": "text", "align": "left", "baseline": "middle"}, "encoding": {"x": {"datum": 0.6, "type": "quantitative", "scale": {"domain": [0, 128], "nice": false, "zero": false}, "axis": {"labels": false, "grid": false, "title": null}}, "y": {"datum": 303.5, "type": "quantitative"}, "text": {"field": "t"}}}
        ]}
      ], "spacing": 0, "bounds": "flush"}
    ]}
  ]
}
